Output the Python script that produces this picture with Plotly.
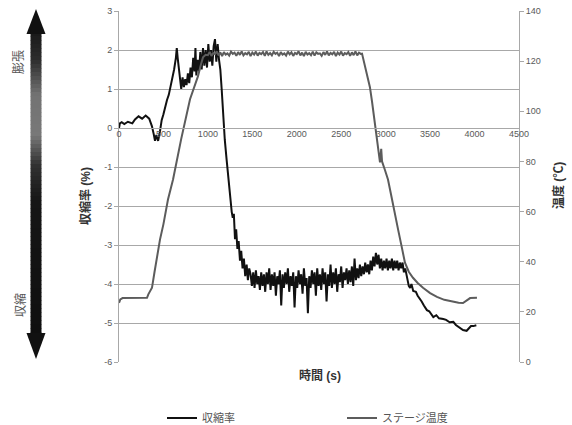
import plotly.graph_objects as go

# ---------------- data ----------------
# 収縮率 (%) : hand-read points
shrink_t_a = [0, 10, 30, 60, 100, 150, 180, 220, 260, 300, 340, 370, 390, 405, 420,
              440, 460, 480, 500, 520, 540, 560, 580, 600, 620, 640, 650, 660, 680, 700,
              715, 730, 745, 760, 775, 790, 805, 820, 835, 850, 860, 870, 885, 900, 915,
              930, 945, 960, 975, 990, 1005, 1020, 1035, 1050, 1065, 1080, 1095, 1110, 1125, 1140,
              1155, 1170, 1190, 1210, 1230, 1250, 1268, 1280, 1292, 1305, 1318, 1332, 1346, 1361, 1375,
              1390, 1405, 1420, 1436, 1450, 1465]
shrink_v_a = [0.0, 0.12, 0.15, 0.1, 0.16, 0.12, 0.22, 0.3, 0.24, 0.32, 0.24, 0.05, -0.15, -0.33, -0.18,
              -0.33, -0.1, 0.2, 0.35, 0.55, 0.72, 0.85, 1.05, 1.25, 1.5, 1.8, 2.05, 1.8, 1.45, 1.0,
              1.3, 1.05, 1.25, 1.1, 1.4, 1.15, 1.55, 1.3, 1.8, 1.45, 2.05, 1.35, 1.75, 1.45, 1.95,
              1.5, 2.05, 1.6, 2.0, 1.55, 2.15, 1.7, 2.0, 1.6, 2.1, 2.28, 1.7, 2.15, 1.75, 1.5,
              1.0, 0.3, -0.3, -0.8, -1.3, -1.8, -2.15, -2.3, -2.2, -2.85, -2.6, -3.1, -2.9, -3.4, -3.15,
              -3.6, -3.35, -3.8, -3.5, -3.9, -3.6]

# noisy band, sampled every 15 s from 1480 s to 2785 s
shrink_t_b = list(range(1480, 2786, 15))
shrink_v_b = [-3.75, -4.05, -3.7, -4.1, -3.65, -4.0, -3.8, -4.15, -3.7,
              -4.05, -3.75, -4.2, -3.7, -4.0, -3.6, -4.15, -3.75, -4.05,
              -3.7, -4.3, -3.8, -4.0, -3.65, -4.55, -3.75, -4.1, -3.7,
              -4.0, -3.6, -4.2, -3.8, -4.05, -3.7, -4.6, -3.8, -4.1,
              -3.65, -4.0, -3.75, -4.25, -3.6, -4.05, -3.85, -4.75, -3.8,
              -4.1, -3.65, -4.0, -3.7, -4.3, -3.6, -4.05, -3.75, -4.15,
              -3.6, -4.0, -3.7, -4.45, -3.75, -4.05, -3.5, -4.1, -3.7,
              -4.0, -3.6, -4.2, -3.75, -3.95, -3.55, -4.1, -3.7, -3.9,
              -3.6, -4.0, -3.65, -3.95, -3.55, -4.05, -3.35, -3.9, -3.6,
              -3.85, -3.5, -3.8, -3.55, -3.75, -3.45, -3.7]

# hump, sampled every 15 s from 2800 s to 3220 s
shrink_t_c = list(range(2800, 3221, 15))
shrink_v_c = [-3.5, -3.75, -3.4, -3.65, -3.3, -3.55, -3.2, -3.5, -3.25, -3.6,
              -3.35, -3.65, -3.4, -3.6, -3.35, -3.65, -3.4, -3.6, -3.35, -3.65,
              -3.4, -3.6, -3.4, -3.65, -3.45, -3.6, -3.45, -3.7, -3.6]

# final decline
shrink_t_d = [3240, 3260, 3275, 3290, 3310, 3340, 3360, 3386, 3405, 3430, 3464, 3490, 3510, 3536,
              3570, 3600, 3648, 3680, 3720, 3761, 3790, 3836, 3870, 3911, 3940, 3960, 3986, 4020]
shrink_v_d = [-3.85, -4.05, -4.1, -4.0, -4.18, -4.2, -4.3, -4.38, -4.45, -4.55, -4.67, -4.7, -4.78, -4.85,
              -4.8, -4.88, -4.9, -4.92, -4.98, -4.97, -5.05, -5.13, -5.18, -5.2, -5.12, -5.08, -5.08, -5.06]

# ステージ温度 (℃)
temp_t_a = [0, 15, 40, 150, 315, 330, 350, 371, 400, 461, 500, 551, 608, 700, 799, 850, 889, 920, 945, 975]
temp_v_a = [23.6, 25.0, 25.5, 25.5, 25.6, 27.0, 28.5, 29.6, 36.0, 48.8, 55.0, 64.8, 72.8, 89.0, 104.8,
            110.5, 114.0, 118.5, 121.5, 122.5]

# plateau, sampled every 20 s from 1000 s to 2720 s
temp_t_b = list(range(1000, 2721, 20))
temp_v_b = [122.4, 123.7, 122.1, 123.2, 122.8, 123.9, 122.3, 123.5, 122.0, 123.6,
            122.6, 123.1, 122.2, 123.8, 122.9, 123.4, 122.1, 123.6, 122.5, 123.9,
            122.3, 123.2, 122.7, 123.7, 122.0, 123.4, 122.6, 123.8, 122.2, 123.3,
            122.8, 123.6, 122.1, 123.9, 122.5, 123.2, 122.3, 123.7, 122.9, 123.4,
            122.0, 123.6, 122.6, 123.1, 122.2, 123.8, 122.7, 123.5, 122.1, 123.3,
            122.8, 123.9, 122.3, 123.4, 122.0, 123.7, 122.6, 123.2, 122.4, 123.8,
            122.2, 123.5, 122.9, 123.1, 122.1, 123.6, 122.5, 123.9, 122.3, 123.3,
            122.7, 123.7, 122.0, 123.4, 122.6, 123.8, 122.2, 123.2, 122.8, 123.6,
            122.1, 123.5, 122.4, 123.9, 122.3, 123.4, 122.9]

temp_t_c = [2734, 2760, 2790, 2823, 2846, 2880, 2914, 2936, 2950, 2959, 2990, 3026, 3065, 3105, 3140,
            3180, 3217, 3260, 3307, 3360, 3420, 3500, 3577, 3660, 3757, 3820, 3870, 3890, 3915, 3950, 4027]
temp_v_c = [123.0, 119.0, 114.0, 109.6, 104.0, 95.0, 84.8, 79.6, 85.0, 80.0, 76.8, 72.8, 66.0, 59.6, 52.8,
            46.0, 39.6, 36.0, 33.6, 31.5, 29.6, 27.5, 26.0, 24.8, 24.0, 23.6, 23.5, 24.0, 24.8, 25.5, 25.6]

x_ticks = [0, 500, 1000, 1500, 2000, 2500, 3000, 3500, 4000, 4500]
y_ticks = [-6, -5, -4, -3, -2, -1, 0, 1, 2, 3]
y2_ticks = [0, 20, 40, 60, 80, 100, 120, 140]

shrink_t = shrink_t_a + shrink_t_b + shrink_t_c + shrink_t_d
shrink_v = shrink_v_a + shrink_v_b + shrink_v_c + shrink_v_d
temp_t = temp_t_a + temp_t_b + temp_t_c
temp_v = temp_v_a + temp_v_b + temp_v_c

# ---------------- layout geometry ----------------
W, H = 572, 425
L, R, T, B = 119, 53, 11, 63
PW, PH = W - L - R, H - T - B


def px(x):
    return (x - L) / PW


def py(y):
    return (H - B - y) / PH


FONT = "Liberation Sans, Arial, Noto Sans CJK JP, sans-serif"
GRID = "#a8a8a8"
TICKC = "#595959"

fig = go.Figure()
fig.add_trace(go.Scatter(x=shrink_t, y=shrink_v, mode="lines", name="収縮率",
                         line=dict(color="#111111", width=2)))
fig.add_trace(go.Scatter(x=temp_t, y=temp_v, mode="lines", name="ステージ温度", yaxis="y2",
                         line=dict(color="#5c5c5c", width=2)))

# ---- gradient double arrow (decoration) ----
shapes = []
stops = [(33, 25), (60, 45), (95, 115), (135, 120), (165, 50), (200, 22), (334, 15)]


def gray_at(y):
    for (y0, g0), (y1, g1) in zip(stops[:-1], stops[1:]):
        if y0 <= y <= y1:
            f = (y - y0) / (y1 - y0)
            return int(round(g0 + f * (g1 - g0)))
    return stops[-1][1]


y = 32
while y < 335:
    g = gray_at(y + 2)
    shapes.append(dict(type="rect", xref="paper", yref="paper",
                       x0=px(30.5), x1=px(41.5), y0=py(y + 4.5), y1=py(y),
                       fillcolor=f"rgb({g},{g},{g})", line=dict(width=0), layer="above"))
    y += 4


def tri(p):
    s = "M " + " L ".join(f"{px(a):.5f},{py(b):.5f}" for a, b in p) + " Z"
    return dict(type="path", xref="paper", yref="paper", path=s,
                fillcolor="#111111", line=dict(width=0), layer="above")


shapes.append(tri([(36, 9), (26.5, 34), (45.5, 34)]))
shapes.append(tri([(36, 359), (26.5, 333), (45.5, 333)]))


def ann(text, x, y, size, color, angle=0):
    return dict(text=text, x=px(x), y=py(y), xref="paper", yref="paper", showarrow=False,
                xanchor="center", yanchor="middle", textangle=angle,
                font=dict(size=size, color=color, family=FONT))


annotations = [
    ann("膨張", 19, 62, 12, "#555555", -90),
    ann("収縮", 21, 305, 12, "#555555", -90),
    ann("<b>収縮率 (%)</b>", 85, 196, 12, "#333333", -90),
    ann("<b>温度 (℃)</b>", 558, 186, 12, "#333333", -90),
    ann("<b>時間 (s)</b>", 320, 375, 12, "#333333"),
]

fig.update_layout(
    width=W, height=H,
    margin=dict(l=L, r=R, t=T, b=B, autoexpand=False),
    paper_bgcolor="white", plot_bgcolor="white",
    font=dict(family=FONT, size=9, color=TICKC),
    showlegend=True,
    legend=dict(orientation="h", x=px(162), y=py(418), xanchor="left", yanchor="middle",
                entrywidth=135, entrywidthmode="pixels",
                font=dict(size=11, color="#555555", family=FONT), bgcolor="rgba(0,0,0,0)",
                itemwidth=30),
    xaxis=dict(range=[0, 4500], tickvals=x_ticks, ticktext=[str(v) for v in x_ticks],
               showgrid=False, zeroline=False, showline=True, linecolor=GRID, linewidth=1,
               anchor="free", position=2 / 3, ticks="", ticklabelstandoff=-3,
               tickfont=dict(size=9, color=TICKC)),
    yaxis=dict(range=[-6, 3], tickvals=y_ticks, ticktext=[str(v) for v in y_ticks],
               showgrid=True, gridcolor=GRID, gridwidth=1, zeroline=False,
               showline=True, linecolor=GRID, linewidth=1, ticks="outside", ticklen=4,
               tickcolor=GRID, tickfont=dict(size=9, color=TICKC)),
    yaxis2=dict(range=[0, 140], tickvals=y2_ticks, ticktext=[str(v) for v in y2_ticks],
                overlaying="y", side="right", showgrid=False, zeroline=False,
                showline=True, linecolor=GRID, linewidth=1, ticks="outside", ticklen=4,
                tickcolor=GRID, tickfont=dict(size=9, color=TICKC)),
    shapes=shapes,
    annotations=annotations,
)

fig.write_html("out.html", config={"displayModeBar": False},
               post_script="document.body.style.margin='0';document.body.style.padding='0';")
